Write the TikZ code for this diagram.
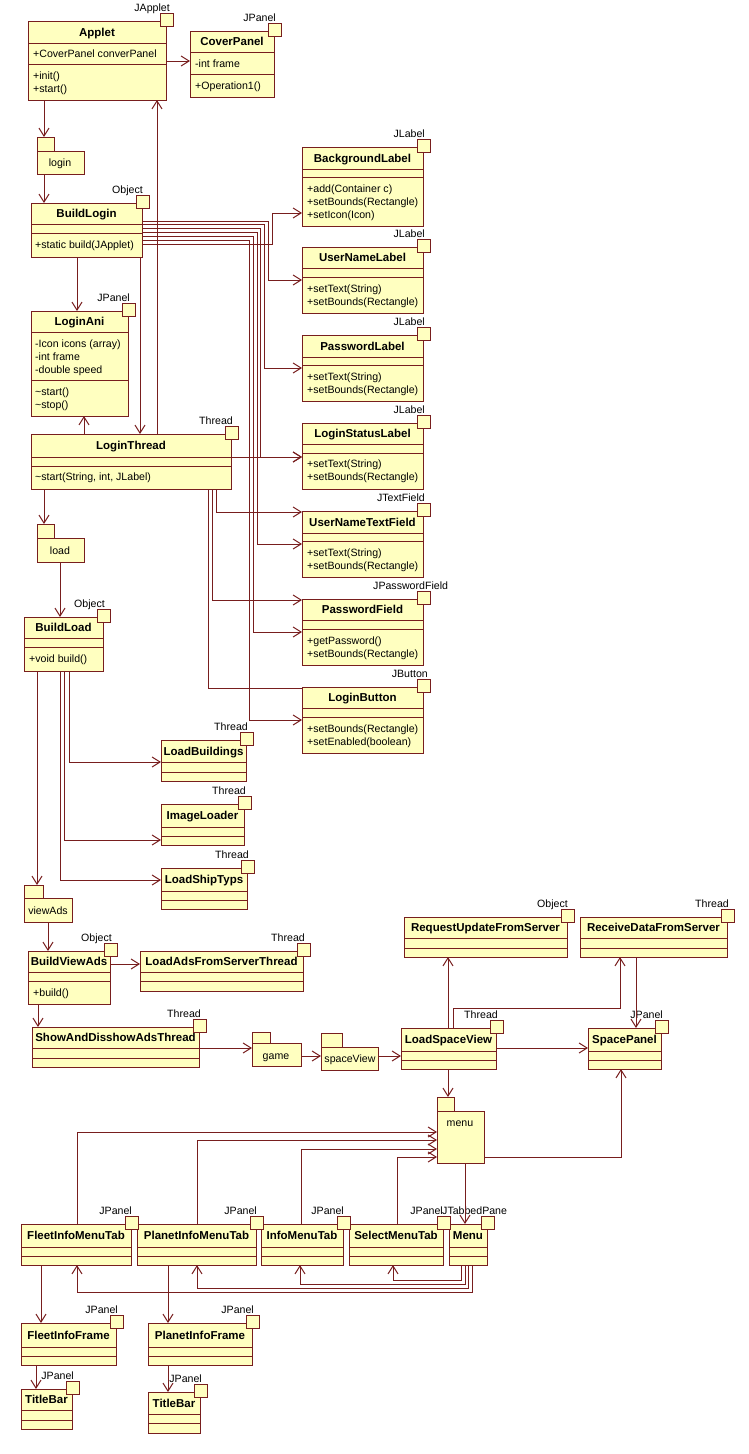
\documentclass[tikz,border=0pt]{standalone}
\usepackage{fontspec}
\setmainfont{Liberation Sans}
\usetikzlibrary{arrows.meta}
\definecolor{lc}{RGB}{120,30,30}
\definecolor{fc}{RGB}{255,255,192}
\newcommand{\tfnt}{\fontsize{11.5}{13}\selectfont\bfseries}
\newcommand{\rfnt}{\fontsize{10.6}{13}\selectfont}
\tikzset{
 cls/.style={draw=lc, fill=fc, line width=1pt, inner sep=0pt, outer sep=0pt, rectangle},
 cline/.style={draw=lc, line width=1pt},
 ctitle/.style={font=\tfnt, anchor=base, inner sep=0pt},
 mtxt/.style={font=\rfnt, anchor=base west, inner sep=0pt},
 ctxt/.style={font=\rfnt, anchor=base, inner sep=0pt},
 stl/.style={font=\rfnt, anchor=base east, inner sep=0pt},
 stlw/.style={font=\rfnt, anchor=base west, inner sep=0pt},
 sq/.style={draw=lc, fill=fc, line width=1pt},
 dep/.style={draw=lc, line width=1pt, -{Straight Barb[length=8pt,width=10pt]}},
 plainline/.style={draw=lc, line width=1pt},
}
\newcommand{\umlcls}[8]{%
 \node[cls, minimum width={#4-#2}, minimum height={#5-#3}, anchor=north west] (#1) at (#2,#3) {};
 \draw[cline] (#1.west |- 0,#6) -- (#1.east |- 0,#6);
 \draw[cline] (#1.west |- 0,#7) -- (#1.east |- 0,#7);
 \node[ctitle] (#1-t) at ({(#2+#4)/2},{(#3+#6)/2+4}) {#8};
}
\newcommand{\stsq}[1]{%
 \draw[sq] ([xshift=-6pt,yshift=8pt]#1.north east) rectangle ([xshift=7pt,yshift=-5pt]#1.north east);
}
\newcommand{\stereo}[3][2]{%
 \stsq{#2}
 \node[stl] (#2-s) at ([xshift=#1pt,yshift=10pt]#2.north east) {#3};
}
\newcommand{\umlpkg}[7]{%
 \node[cls, minimum width={#4-#2}, minimum height={#5-#3}, anchor=north west] (#1-tab) at (#2,#3) {};
 \node[cls, minimum width={#6-#2}, minimum height={#7-#5}, anchor=north west] (#1) at (#2,#5) {};
}
\begin{document}
\begin{tikzpicture}[x=1pt,y=-1pt]
\useasboundingbox (0,0) rectangle (748,1454);
\fill[white] (0,0) rectangle (748,1454);

% ---------- classes ----------
\umlcls{Applet}{28}{21}{166}{100}{43}{64}{Applet}
\umlcls{CoverPanel}{190}{31}{274}{97}{52}{74}{CoverPanel}
\umlcls{BuildLogin}{31}{203}{142}{257}{224}{233}{BuildLogin}
\umlcls{LoginAni}{31}{311}{128}{416}{332}{380}{LoginAni}
\umlcls{LoginThread}{31}{434}{231}{489}{457}{466}{LoginThread}
\umlcls{BackgroundLabel}{302}{147}{423}{226}{169}{177}{BackgroundLabel}
\umlcls{UserNameLabel}{302}{247}{423}{313}{268}{277}{UserNameLabel}
\umlcls{PasswordLabel}{302}{335}{423}{401}{357}{365}{PasswordLabel}
\umlcls{LoginStatusLabel}{302}{423}{423}{489}{444}{453}{LoginStatusLabel}
\umlcls{UserNameTextField}{302}{511}{423}{577}{533}{541}{UserNameTextField}
\umlcls{PasswordField}{302}{599}{423}{665}{620}{629}{PasswordField}
\umlcls{LoginButton}{302}{687}{423}{753}{708}{717}{LoginButton}
\umlcls{BuildLoad}{24}{617}{103}{671}{638}{647}{BuildLoad}
\umlcls{LoadBuildings}{161}{740}{246}{781}{762}{772}{LoadBuildings}
\umlcls{ImageLoader}{161}{804}{244}{845}{827}{836}{ImageLoader}
\umlcls{LoadShipTyps}{161}{868}{247}{909}{891}{900}{LoadShipTyps}
\umlcls{BuildViewAds}{28}{951}{110}{1004}{972}{981}{BuildViewAds}
\umlcls{LoadAds}{140}{951}{303}{991}{972}{981}{LoadAdsFromServerThread}
\umlcls{ShowAds}{32}{1027}{199}{1067}{1048}{1058}{ShowAndDisshowAdsThread}
\umlcls{LoadSpaceView}{401}{1028}{496}{1069}{1051}{1060}{LoadSpaceView}
\umlcls{RequestUpdate}{404}{917}{567}{957}{938}{948}{RequestUpdateFromServer}
\umlcls{ReceiveData}{580}{917}{727}{957}{938}{948}{ReceiveDataFromServer}
\umlcls{SpacePanel}{588}{1028}{661}{1069}{1051}{1060}{SpacePanel}
\umlcls{FleetTab}{21}{1224}{131}{1265}{1247}{1256}{FleetInfoMenuTab}
\umlcls{PlanetTab}{137}{1224}{256}{1265}{1247}{1256}{PlanetInfoMenuTab}
\umlcls{InfoTab}{261}{1224}{343}{1265}{1247}{1256}{InfoMenuTab}
\umlcls{SelectTab}{349}{1224}{443}{1265}{1247}{1256}{SelectMenuTab}
\umlcls{Menu}{449}{1224}{487}{1265}{1247}{1256}{Menu}
\umlcls{FleetFrame}{21}{1323}{116}{1365}{1347}{1356}{FleetInfoFrame}
\umlcls{PlanetFrame}{148}{1323}{252}{1365}{1347}{1356}{PlanetInfoFrame}
\umlcls{TitleBarA}{21}{1389}{72}{1429}{1410}{1420}{TitleBar}
\umlcls{TitleBarB}{148}{1392}{200}{1433}{1414}{1423}{TitleBar}

% ---------- stereotypes ----------
\stereo[4]{Applet}{JApplet}
\stereo{CoverPanel}{JPanel}
\stereo[1]{BuildLogin}{Object}
\stereo{LoginAni}{JPanel}
\stereo{LoginThread}{Thread}
\stereo{BackgroundLabel}{JLabel}
\stereo{UserNameLabel}{JLabel}
\stereo{PasswordLabel}{JLabel}
\stereo{LoginStatusLabel}{JLabel}
\stereo{UserNameTextField}{JTextField}
\stsq{PasswordField}
\node[stlw] (PasswordField-s) at (373,589) {JPasswordField};
\stereo[5]{LoginButton}{JButton}
\stereo{BuildLoad}{Object}
\stereo{LoadBuildings}{Thread}
\stereo{ImageLoader}{Thread}
\stereo{LoadShipTyps}{Thread}
\stereo{BuildViewAds}{Object}
\stereo{LoadAds}{Thread}
\stereo{ShowAds}{Thread}
\stereo{LoadSpaceView}{Thread}
\stereo[1]{RequestUpdate}{Object}
\stereo{ReceiveData}{Thread}
\stereo{SpacePanel}{JPanel}
\stereo[1]{FleetTab}{JPanel}
\stereo[1]{PlanetTab}{JPanel}
\stereo[1]{InfoTab}{JPanel}
\stereo[0]{SelectTab}{JPanel}
\stsq{Menu}
\node[stlw] (Menu-s) at (442,1214) {JTabbedPane};
\stereo{FleetFrame}{JPanel}
\stereo{PlanetFrame}{JPanel}
\stereo{TitleBarA}{JPanel}
\stereo{TitleBarB}{JPanel}

% ---------- members ----------
\node[mtxt] (ap1) at (33,57) {+CoverPanel converPanel};
\node[mtxt] (ap2) at (33,79) {+init()};
\node[mtxt] (ap3) at (33,92) {+start()};
\node[mtxt] (cp1) at (195,67) {-int frame};
\node[mtxt] (cp2) at (195,89) {+Operation1()};
\node[mtxt] (bl1) at (35,248) {+static build(JApplet)};
\node[mtxt] (la1) at (35,347) {-Icon icons (array)};
\node[mtxt] (la2) at (35,360) {-int frame};
\node[mtxt] (la3) at (35,373) {-double speed};
\node[mtxt] (la4) at (35,395) {\textasciitilde start()};
\node[mtxt] (la5) at (35,408) {\textasciitilde stop()};
\node[mtxt] (lt1) at (35,480) {\textasciitilde start(String, int, JLabel)};
\node[mtxt] (bg1) at (307,192) {+add(Container c)};
\node[mtxt] (bg2) at (307,205) {+setBounds(Rectangle)};
\node[mtxt] (bg3) at (307,218) {+setIcon(Icon)};
\node[mtxt] (ul1) at (307,292) {+setText(String)};
\node[mtxt] (ul2) at (307,305) {+setBounds(Rectangle)};
\node[mtxt] (pl1) at (307,380) {+setText(String)};
\node[mtxt] (pl2) at (307,393) {+setBounds(Rectangle)};
\node[mtxt] (ls1) at (307,467) {+setText(String)};
\node[mtxt] (ls2) at (307,480) {+setBounds(Rectangle)};
\node[mtxt] (ut1) at (307,556) {+setText(String)};
\node[mtxt] (ut2) at (307,569) {+setBounds(Rectangle)};
\node[mtxt] (pf1) at (307,644) {+getPassword()};
\node[mtxt] (pf2) at (307,657) {+setBounds(Rectangle)};
\node[mtxt] (lb1) at (307,732) {+setBounds(Rectangle)};
\node[mtxt] (lb2) at (307,745) {+setEnabled(boolean)};
\node[mtxt] (bd1) at (29,662) {+void build()};
\node[mtxt] (bv1) at (33,996) {+build()};

% ---------- packages ----------
\umlpkg{login}{37}{137}{54}{151}{84}{174}
\node[ctxt] (login-l) at (60,166) {login};
\umlpkg{load}{37}{524}{54}{538}{84}{562}
\node[ctxt] (load-l) at (60,554) {load};
\umlpkg{viewAds}{24}{885}{43}{898}{72}{922}
\node[ctxt] (viewAds-l) at (48,914) {viewAds};
\umlpkg{game}{252}{1032}{270}{1043}{301}{1066}
\node[ctxt] (game-l) at (276,1059) {game};
\umlpkg{spaceView}{321}{1033}{342}{1047}{378}{1070}
\node[ctxt] (spaceView-l) at (350,1062) {spaceView};
\umlpkg{menu}{437}{1097}{454}{1111}{484}{1163}
\node[ctxt] (menu-l) at (460,1126) {menu};

% ---------- connectors ----------
\draw[dep] (Applet.east |- 0,61) -- (CoverPanel.west |- 0,61);
\draw[dep] (Applet.south -| 44,0) -- (login-tab.north -| 44,0);
\draw[dep] (login.south -| 44,0) -- (BuildLogin.north -| 44,0);
\draw[dep] (BuildLogin.south -| 77,0) -- (LoginAni.north -| 77,0);
\draw[dep] (BuildLogin.south -| 140,0) -- (LoginThread.north -| 140,0);
\draw[dep] (LoginThread.north -| 157,0) -- (Applet.south -| 157,0);
\draw[dep] (LoginThread.north -| 84,0) -- (LoginAni.south -| 84,0);

\draw[dep] (BuildLogin.east |- 0,244) -- (272,244) -- (272,213) -- (BackgroundLabel.west |- 0,213);
\draw[dep] (BuildLogin.east |- 0,221) -- (268,221) -- (268,280) -- (UserNameLabel.west |- 0,280);
\draw[dep] (BuildLogin.east |- 0,224) -- (264,224) -- (264,368) -- (PasswordLabel.west |- 0,368);
\draw[dep] (BuildLogin.east |- 0,228) -- (260,228) -- (260,457) -- (LoginStatusLabel.west |- 0,457);
\draw[dep] (BuildLogin.east |- 0,232) -- (257,232) -- (257,544) -- (UserNameTextField.west |- 0,544);
\draw[dep] (BuildLogin.east |- 0,236) -- (253,236) -- (253,632) -- (PasswordField.west |- 0,632);
\draw[dep] (BuildLogin.east |- 0,240) -- (249,240) -- (249,720) -- (LoginButton.west |- 0,720);

\draw[dep] (LoginThread.east |- 0,457) -- (LoginStatusLabel.west |- 0,457);
\draw[dep] (LoginThread.south -| 216,0) -- (216,512) -- (UserNameTextField.west |- 0,512);
\draw[dep] (LoginThread.south -| 212,0) -- (212,600) -- (PasswordField.west |- 0,600);
\draw[plainline] (LoginThread.south -| 208,0) -- (208,688) -- (LoginButton.west |- 0,688);
\draw[dep] (LoginThread.south -| 44,0) -- (load-tab.north -| 44,0);
\draw[dep] (load.south -| 60,0) -- (BuildLoad.north -| 60,0);

\draw[dep] (BuildLoad.south -| 37,0) -- (viewAds-tab.north -| 37,0);
\draw[dep] (BuildLoad.south -| 60,0) -- (60,880) -- (LoadShipTyps.west |- 0,880);
\draw[dep] (BuildLoad.south -| 64,0) -- (64,840) -- (ImageLoader.west |- 0,840);
\draw[dep] (BuildLoad.south -| 69,0) -- (69,762) -- (LoadBuildings.west |- 0,762);

\draw[dep] (viewAds.south -| 48,0) -- (BuildViewAds.north -| 48,0);
\draw[dep] (BuildViewAds.east |- 0,964) -- (LoadAds.west |- 0,964);
\draw[dep] (BuildViewAds.south -| 38,0) -- (ShowAds.north -| 38,0);
\draw[dep] (ShowAds.east |- 0,1048) -- (game.west |- 0,1048);
\draw[dep] (game.east |- 0,1056) -- (spaceView.west |- 0,1056);
\draw[dep] (spaceView.east |- 0,1056) -- (LoadSpaceView.west |- 0,1056);

\draw[dep] (LoadSpaceView.north -| 448,0) -- (RequestUpdate.south -| 448,0);
\draw[dep] (LoadSpaceView.north -| 453,0) -- (453,1008) -- (620,1008) -- (ReceiveData.south -| 620,0);
\draw[dep] (ReceiveData.south -| 636,0) -- (SpacePanel.north -| 636,0);
\draw[dep] (LoadSpaceView.east |- 0,1048) -- (SpacePanel.west |- 0,1048);
\draw[dep] (LoadSpaceView.south -| 448,0) -- (menu-tab.north -| 448,0);
\draw[dep] (menu.east |- 0,1157) -- (621,1157) -- (SpacePanel.south -| 621,0);
\draw[dep] (menu.south -| 465,0) -- (Menu.north -| 465,0);

\draw[dep] (FleetTab.north -| 77,0) -- (77,1132) -- (menu.west |- 0,1132);
\draw[dep] (PlanetTab.north -| 197,0) -- (197,1140) -- (menu.west |- 0,1140);
\draw[dep] (InfoTab.north -| 301,0) -- (301,1149) -- (menu.west |- 0,1149);
\draw[dep] (SelectTab.north -| 397,0) -- (397,1157) -- (menu.west |- 0,1157);

\draw[dep] (Menu.south -| 461,0) -- (461,1280) -- (393,1280) -- (SelectTab.south -| 393,0);
\draw[dep] (Menu.south -| 465,0) -- (465,1284) -- (300,1284) -- (InfoTab.south -| 300,0);
\draw[dep] (Menu.south -| 468,0) -- (468,1288) -- (197,1288) -- (PlanetTab.south -| 197,0);
\draw[dep] (Menu.south -| 472,0) -- (472,1292) -- (77,1292) -- (FleetTab.south -| 77,0);

\draw[dep] (FleetTab.south -| 41,0) -- (FleetFrame.north -| 41,0);
\draw[dep] (PlanetTab.south -| 168,0) -- (PlanetFrame.north -| 168,0);
\draw[dep] (FleetFrame.south -| 36,0) -- (TitleBarA.north -| 36,0);
\draw[dep] (PlanetFrame.south -| 168,0) -- (TitleBarB.north -| 168,0);
\end{tikzpicture}
\end{document}
